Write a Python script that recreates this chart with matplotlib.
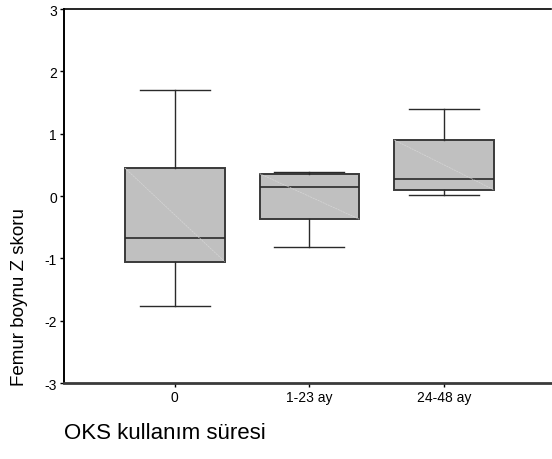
import matplotlib.pyplot as plt

# Valores (Z skoru)
grupos = ["0", "1-23 ay", "24-48 ay"]
minimos = [-1.77, -0.82, 0.02]
q1 = [-1.05, -0.37, 0.10]
medianas = [-0.67, 0.14, 0.28]
q3 = [0.45, 0.36, 0.90]
maximos = [1.71, 0.38, 1.40]

plt.rcParams['font.family'] = ['Liberation Sans', 'DejaVu Sans']
plt.rcParams['axes.unicode_minus'] = False

fig = plt.figure(figsize=(5.52, 4.60), dpi=100)
ax = fig.add_axes([0.116, 0.165, 0.882, 0.813])

stats = []
for i in range(len(grupos)):
    stats.append({"label": grupos[i], "whislo": minimos[i], "q1": q1[i],
                  "med": medianas[i], "q3": q3[i], "whishi": maximos[i]})

pos = [1, 2, 3]
ancho = 0.74
ax.bxp(stats, positions=pos, widths=ancho, capwidths=0.52, showfliers=False,
       patch_artist=True,
       boxprops=dict(facecolor="#c0c0c0", edgecolor="#3a3a3a", linewidth=1.4),
       medianprops=dict(color="#2a2a2a", linewidth=1.2),
       whiskerprops=dict(color="#2a2a2a", linewidth=1.0),
       capprops=dict(color="#2a2a2a", linewidth=1.0))

# linea diagonal tenue dentro de cada caja
for i in range(len(pos)):
    ax.plot([pos[i] - ancho / 2, pos[i] + ancho / 2], [q3[i], q1[i]],
            color="#d6d6d6", linewidth=0.5, linestyle=(0, (3, 1)), zorder=3)

ax.set_xlim(0.178, 3.793)
ax.set_ylim(-3, 3)
ax.set_yticks([-3, -2, -1, 0, 1, 2, 3])
ax.set_xticks(pos)
ax.set_xticklabels(grupos)

ax.spines["right"].set_visible(False)
ax.spines["top"].set_linewidth(1.2)
ax.spines["left"].set_linewidth(1.4)
ax.spines["bottom"].set_linewidth(2.0)
ax.spines["bottom"].set_color("#3a3a3a")
ax.tick_params(axis="both", labelsize=10, length=3, width=1, direction="out", pad=2)

fig.text(0.035, 0.355, "Femur boynu Z skoru", rotation=90, fontsize=13.5,
         ha="center", va="center")
fig.text(0.116, 0.057, "OKS kullanım süresi", fontsize=16, ha="left", va="center")

plt.savefig("out.png", dpi=100)
